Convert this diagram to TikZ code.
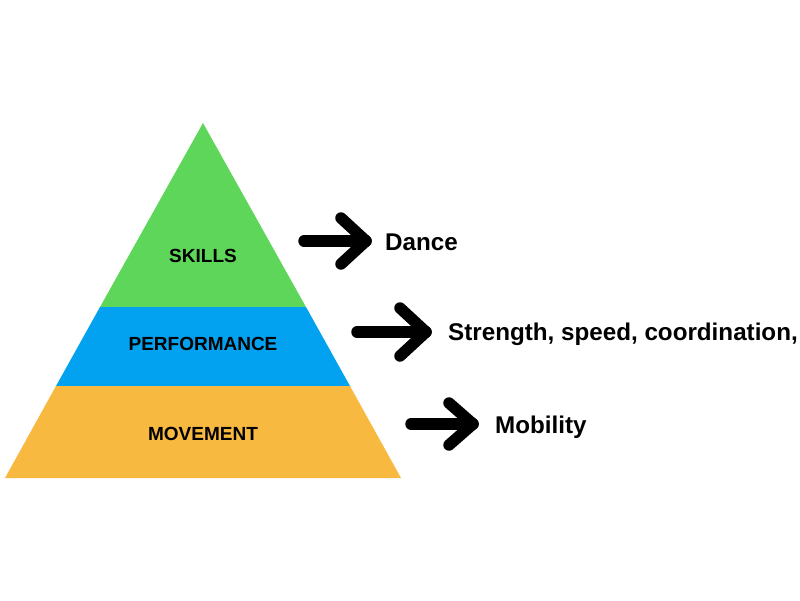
\documentclass[tikz,border=0pt]{standalone}
\usepackage{fontspec}
\setmainfont{Liberation Sans}
\definecolor{skillgreen}{RGB}{94,214,90}
\definecolor{perfblue}{RGB}{2,162,240}
\definecolor{moveorange}{RGB}{248,185,64}
\begin{document}
\begin{tikzpicture}[x=1pt,y=-1pt,
  layer/.style={draw=none},
  tierlabel/.style={anchor=base,inner sep=0pt,font=\fontsize{19}{19}\selectfont\bfseries},
  sidelabel/.style={anchor=base west,inner sep=0pt,font=\fontsize{24.2}{25}\selectfont\bfseries},
  bigarrow/.style={line width=11.5pt,line cap=round,line join=round}]
\useasboundingbox (0,0) rectangle (800,600);
% pyramid layers
\fill[skillgreen] (203,123) -- (306,307) -- (100,307) -- cycle;
\fill[perfblue] (100,307) -- (306,307) -- (350,386) -- (56,386) -- cycle;
\fill[moveorange] (56,386) -- (350,386) -- (401,478) -- (5,478) -- cycle;
% tier labels
\node[tierlabel] (skills) at (203,262) {SKILLS};
\node[tierlabel] (perf) at (203,350) {PERFORMANCE};
\node[tierlabel] (move) at (203,440) {MOVEMENT};
% side labels
\node[sidelabel] (dance) at (385,250) {Dance};
\node[sidelabel] (strength) at (448,340) {Strength, speed, coordination,};
\node[sidelabel] (mobility) at (495,433) {Mobility};
% arrows
\coordinate (a1s) at (304,241);
\coordinate (a1t) at (366,241);
\coordinate (a2s) at (357,332);
\coordinate (a2t) at (426,332);
\coordinate (a3s) at (411,424);
\coordinate (a3t) at (473,424);
\draw[bigarrow] (a1s) -- (a1t);
\draw[bigarrow] ([shift={(-25,-23)}]a1t) -- (a1t) -- ([shift={(-25,23)}]a1t);
\draw[bigarrow] (a2s) -- (a2t);
\draw[bigarrow] ([shift={(-26,-24)}]a2t) -- (a2t) -- ([shift={(-26,24)}]a2t);
\draw[bigarrow] (a3s) -- (a3t);
\draw[bigarrow] ([shift={(-24,-21)}]a3t) -- (a3t) -- ([shift={(-24,21)}]a3t);
\end{tikzpicture}
\end{document}
